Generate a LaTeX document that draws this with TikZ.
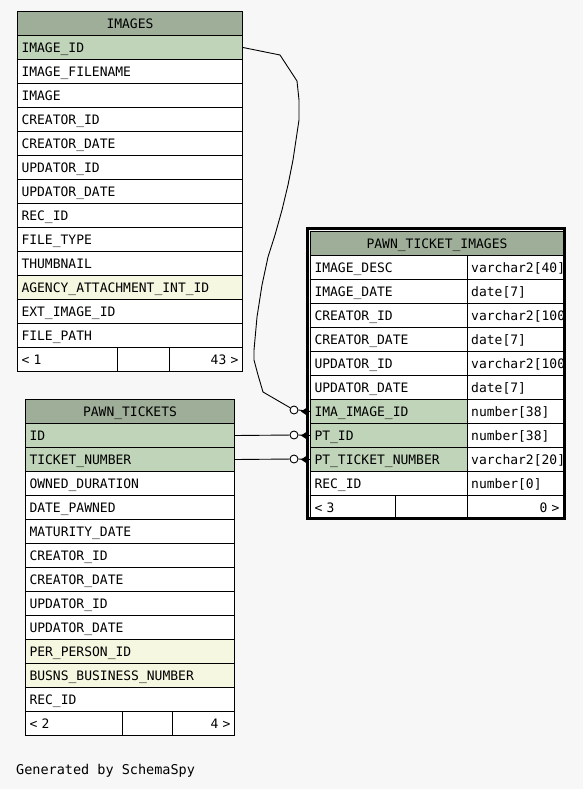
\documentclass[tikz,border=0pt]{standalone}
\usepackage{fontspec}
\newfontfamily\mono{DejaVu Sans Mono}
\definecolor{bg}{HTML}{F7F7F7}
\definecolor{hdrc}{HTML}{9EAE98}
\definecolor{keyc}{HTML}{BFD4B9}
\definecolor{fkc}{HTML}{F5F7E0}
\tikzset{
  cell/.style={draw=black, line width=1pt, fill=white, minimum height=24pt,
    inner xsep=4pt, inner ysep=0pt, text width=#1, align=left, anchor=north west,
    text height=9.5pt, text depth=0pt, font=\mono\fontsize{13}{15}\selectfont},
  hdrcell/.style={cell=#1, fill=hdrc, align=center},
  rcell/.style={cell=#1, align=right},
  ctext/.style={anchor=west, inner sep=0pt, text height=9.5pt, text depth=0pt,
    font=\mono\fontsize{13}{15}\selectfont},
  conn/.style={draw=black, line width=0.9pt},
  opt/.style={circle, draw=black, line width=0.9pt, fill=white, inner sep=0pt, minimum size=8pt},
  crow/.style={fill=black},
}
\begin{document}
\begin{tikzpicture}[x=1pt, y=-1pt]
\fill[bg] (0,0) rectangle (583,789);
\useasboundingbox (0,0) rectangle (583,789);

% ---------------- IMAGES ----------------
\node[hdrcell=217pt] (img-h) at (17,11) {IMAGES};
\foreach \n/\c [count=\i from 0] in {IMAGE\_ID/keyc, IMAGE\_FILENAME/white, IMAGE/white,
  CREATOR\_ID/white, CREATOR\_DATE/white, UPDATOR\_ID/white, UPDATOR\_DATE/white,
  REC\_ID/white, FILE\_TYPE/white, THUMBNAIL/white, AGENCY\_ATTACHMENT\_INT\_ID/fkc,
  EXT\_IMAGE\_ID/white, FILE\_PATH/white}
  \node[cell=217pt, fill=\c] (img-\i) at (17,35+24*\i) {\n};
\node[cell=92pt] (img-f1) at (17,347) {< 1};
\node[cell=44pt] (img-f2) at (117,347) {};
\node[rcell=65pt] (img-f3) at (169,347) {43 >};

% ---------------- PAWN_TICKETS ----------------
\node[hdrcell=201pt] (pt-h) at (25,399) {PAWN\_TICKETS};
\foreach \n/\c [count=\i from 0] in {ID/keyc, TICKET\_NUMBER/keyc, OWNED\_DURATION/white,
  DATE\_PAWNED/white, MATURITY\_DATE/white, CREATOR\_ID/white, CREATOR\_DATE/white,
  UPDATOR\_ID/white, UPDATOR\_DATE/white, PER\_PERSON\_ID/fkc,
  BUSNS\_BUSINESS\_NUMBER/fkc, REC\_ID/white}
  \node[cell=201pt, fill=\c] (pt-\i) at (25,423+24*\i) {\n};
\node[cell=89pt] (pt-f1) at (25,711) {< 2};
\node[cell=42pt] (pt-f2) at (122,711) {};
\node[rcell=54pt] (pt-f3) at (172,711) {4 >};

% ---------------- PAWN_TICKET_IMAGES ----------------
\node[hdrcell=245pt] (pti-h) at (310,231) {PAWN\_TICKET\_IMAGES};
\foreach \n/\c [count=\i from 0] in {IMAGE\_DESC/white, IMAGE\_DATE/white,
  CREATOR\_ID/white, CREATOR\_DATE/white, UPDATOR\_ID/white, UPDATOR\_DATE/white,
  IMA\_IMAGE\_ID/keyc, PT\_ID/keyc, PT\_TICKET\_NUMBER/keyc, REC\_ID/white}
{
  \node[cell=149pt, fill=\c] (pti-\i) at (310,255+24*\i) {\n};
  \node[cell=88pt] (pti-t\i) at (467,255+24*\i) {};
}
\begin{scope}
  \clip (467,255) rectangle (562.5,495);
  \foreach \t [count=\i from 0] in {varchar2[40], date[7], varchar2[100], date[7],
    varchar2[100], date[7], number[38], number[38], varchar2[20], number[0]}
    \node[ctext] at ([xshift=4pt]pti-t\i.west) {\t};
\end{scope}
\node[cell=77pt] (pti-f1) at (310,495) {< 3};
\node[cell=64pt] (pti-f2) at (395,495) {};
\node[rcell=88pt] (pti-f3) at (467,495) {0 >};
\draw[line width=3pt] (307.5,228.5) rectangle (564.5,518.5);

% ---------------- connectors ----------------
\node[opt] (c1) at (294,410) {};
\node[opt] (c2) at (294,435) {};
\node[opt] (c3) at (294,459) {};
\draw[conn] (img-0.east) -- (280,55) -- (297,81) -- (299,100) -- (299,120)
  -- (296,140) -- (293,160) -- (288,185) -- (282,210) -- (275,235) -- (268,257)
  -- (262,285) -- (257,317) -- (254,350) -- (254,360) -- (258,375) -- (263,392)
  -- (c1);
\draw[conn] (pt-0.east) -- (c2);
\draw[conn] (pt-1.east) -- (c3);
\foreach \k/\r in {c1/pti-6, c2/pti-7, c3/pti-8}{
  \draw[conn] (\k.east) -- (\r.west);
  \fill[crow] ([xshift=-9pt]\r.west) -- ([xshift=-3pt,yshift=4pt]\r.west)
    -- ([xshift=-3pt,yshift=-4pt]\r.west) -- cycle;
}

% ---------------- footer ----------------
\node[anchor=west, inner sep=0pt, font=\mono\fontsize{13.5}{15}\selectfont] (gen) at (16,771) {Generated by SchemaSpy};
\end{tikzpicture}
\end{document}
